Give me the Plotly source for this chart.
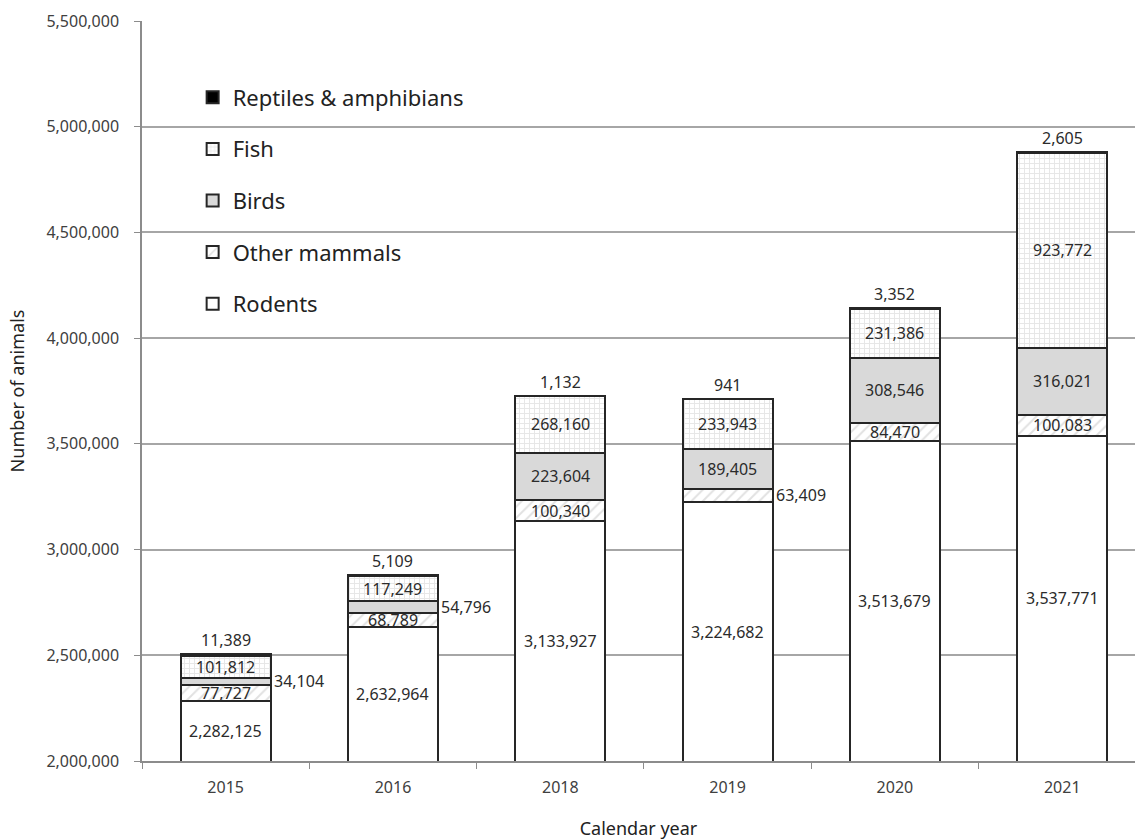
import plotly.graph_objects as go

# Animals used, by calendar year and group
years = ["2015", "2016", "2018", "2019", "2020", "2021"]
rodents = [2282125, 2632964, 3133927, 3224682, 3513679, 3537771]
other_mammals = [77727, 68789, 100340, 63409, 84470, 100083]
birds = [34104, 54796, 223604, 189405, 308546, 316021]
fish = [101812, 117249, 268160, 233943, 231386, 923772]
reptiles = [11389, 5109, 1132, 941, 3352, 2605]

Y_MIN, Y_MAX, Y_STEP = 2000000, 5500000, 500000

FONT = "Noto Sans"
TEXT = "#2b2b2b"
OUTLINE = "#262626"

series = [
    ("Rodents", rodents, dict(color="white")),
    ("Other mammals", other_mammals,
     dict(color="white", pattern=dict(shape="/", fgcolor="#c4c4c4", bgcolor="white",
                                      size=8, solidity=0.25))),
    ("Birds", birds, dict(color="#d9d9d9")),
    ("Fish", fish,
     dict(color="white", pattern=dict(shape="+", fgcolor="#cdcdcd", bgcolor="white",
                                      size=5, solidity=0.35))),
    ("Reptiles & amphibians", reptiles, dict(color="black")),
]

fig = go.Figure()
n = len(series)
for i, (name, vals, marker) in enumerate(series):
    marker = dict(marker)
    marker["line"] = dict(color=OUTLINE, width=2)
    # legend lists the top of the stack first
    fig.add_trace(go.Bar(x=years, y=vals, name=name, marker=marker,
                         legendgroup=f"g{i}", legendrank=n - i, hoverinfo="skip"))

# Value labels: centred in the visible part of each segment, small segments
# beside the bar, the top group above the bar.  x is the category index.
label_font = dict(family=FONT, size=16, color=TEXT)
annotations = []
base = [0] * len(years)
for si, (name, vals, _) in enumerate(series):
    for j, v in enumerate(vals):
        label = f"{v:,}"
        lo = max(base[j], Y_MIN)
        mid = (lo + base[j] + v) / 2
        if si == n - 1:
            annotations.append(dict(x=j, y=base[j] + v, text=label,
                                    showarrow=False, yanchor="bottom", yshift=1,
                                    font=label_font))
        elif v < 65000:
            annotations.append(dict(x=j, y=mid, text=label,
                                    showarrow=False, xanchor="left", xshift=46,
                                    font=label_font))
        else:
            annotations.append(dict(x=j, y=mid, text=label,
                                    showarrow=False, font=label_font))
        base[j] += v

fig.update_layout(
    width=1135, height=840,
    margin=dict(l=142, r=0, t=21, b=79),
    barmode="stack", bargap=0.462,
    plot_bgcolor="white", paper_bgcolor="white",
    font=dict(family=FONT, color="#404040"),
    annotations=annotations,
    showlegend=True,
    legend=dict(x=0.051, y=0.925, xanchor="left", yanchor="top",
                traceorder="grouped", tracegroupgap=20,
                font=dict(family=FONT, size=22, color="#222222"),
                bgcolor="rgba(0,0,0,0)"),
    xaxis=dict(
        type="category", range=[-0.5, 5.435],
        showline=True, linecolor="#8c8c8c", linewidth=1.5,
        ticks="outside", ticklen=6, tickcolor="#8c8c8c", tickson="boundaries",
        showgrid=False, ticklabelstandoff=11,
        tickfont=dict(family=FONT, size=16, color="#404040"),
        title=dict(text="Calendar year", standoff=27,
                   font=dict(family=FONT, size=18, color="#222222")),
    ),
    yaxis=dict(
        range=[Y_MIN, Y_MAX], dtick=Y_STEP, tickformat=",d",
        showline=True, linecolor="#8c8c8c", linewidth=1.5,
        ticks="outside", ticklen=6, tickcolor="#8c8c8c",
        showgrid=True, gridcolor="#a6a6a6", gridwidth=1.5,
        zeroline=False, ticklabelstandoff=12,
        tickfont=dict(family=FONT, size=16, color="#404040"),
        title=dict(text="Number of animals", standoff=17,
                   font=dict(family=FONT, size=18, color="#222222")),
    ),
)

fig.write_html("out.html")
